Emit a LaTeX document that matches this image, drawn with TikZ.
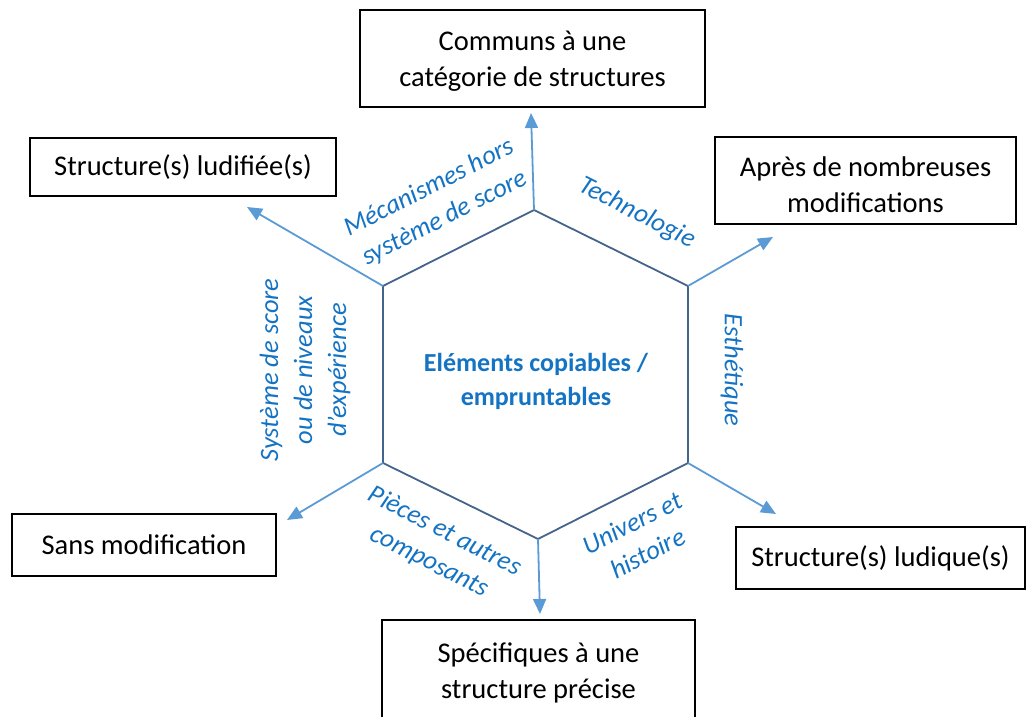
\documentclass[tikz,border=0pt]{standalone}
\usepackage{fontspec}
\setmainfont{Carlito}
\usetikzlibrary{arrows.meta}
\definecolor{hexc}{RGB}{68,100,140}
\definecolor{arrc}{RGB}{91,155,213}
\definecolor{labc}{RGB}{20,115,195}
\begin{document}
\begin{tikzpicture}[x=1pt,y=-1pt,
  box/.style={draw=black,line width=1.8pt,align=center,inner sep=0pt,
    font=\fontsize{28.5}{36}\selectfont,text=black},
  lab/.style={align=center,inner sep=0pt,text=labc,
    font=\itshape\fontsize{26.5}{34}\selectfont},
  hexline/.style={draw=hexc,line width=1.8pt,line join=miter},
  arr/.style={draw=arrc,line width=1.8pt,-{Triangle[length=15pt,width=13pt]}}]
\useasboundingbox (0,0) rectangle (1028,717);
% boxes
\draw[draw=black,line width=1.8pt] (360,10) rectangle (705,107);
\node[box,draw=none,minimum width=345pt,minimum height=97pt] (bT) at (532.5,61) {Communs à une\\catégorie de structures};
\node[box,minimum width=306pt,minimum height=58pt] (bUL) at (183,167) {Structure(s) ludifiée(s)};
\draw[draw=black,line width=1.8pt] (715,137) rectangle (1016,224);
\node[box,draw=none,minimum width=301pt,minimum height=87pt] (bUR) at (865.5,185) {Après de nombreuses\\modifications};
\node[box,minimum width=264pt,minimum height=62pt] (bLL) at (144,545) {Sans modification};
\node[box,minimum width=289pt,minimum height=62pt] (bLR) at (880.5,558) {Structure(s) ludique(s)};
\node[box,minimum width=313pt,minimum height=106pt] (bB) at (538.5,673) {Spécifiques à une\\structure précise};
% hexagon vertices
\coordinate (vT) at (534,210);
\coordinate (vUR) at (688,286);
\coordinate (vLR) at (688,463);
\coordinate (vB) at (538,539);
\coordinate (vLL) at (383,463);
\coordinate (vUL) at (383,286);
\draw[hexline] (vT) -- (vUR) -- (vLR) -- (vB) -- (vLL) -- (vUL) -- cycle;
% arrow tips
\coordinate (tT) at (531,113);
\coordinate (tUR) at (773,237);
\coordinate (tLR) at (776,514);
\coordinate (tB) at (540,614);
\coordinate (tLL) at (287,520);
\coordinate (tUL) at (247,207);
\draw[arr] (vT) -- (tT);
\draw[arr] (vUR) -- (tUR);
\draw[arr] (vLR) -- (tLR);
\draw[arr] (vB) -- (tB);
\draw[arr] (vLL) -- (tLL);
\draw[arr] (vUL) -- (tUL);
% labels
\node[lab,rotate=27] (lM) at (437,203) {Mécanismes hors\\système de score};
\node[lab,rotate=-27] (lTe) at (637,213) {Technologie};
\node[lab,rotate=-90] (lE) at (732,370) {Esthétique};
\node[lab,rotate=90] (lS) at (305,370) {Système de score\\ou de niveaux\\d'expérience};
\node[lab,rotate=-27] (lP) at (437,547) {Pièces et autres\\composants};
\node[lab,rotate=27] (lU) at (640,538) {Univers et\\histoire};
\node[align=center,inner sep=0pt,text=labc,font=\bfseries\fontsize{26}{34}\selectfont] (c) at (536,381) {Eléments copiables /\\empruntables};
\end{tikzpicture}
\end{document}
